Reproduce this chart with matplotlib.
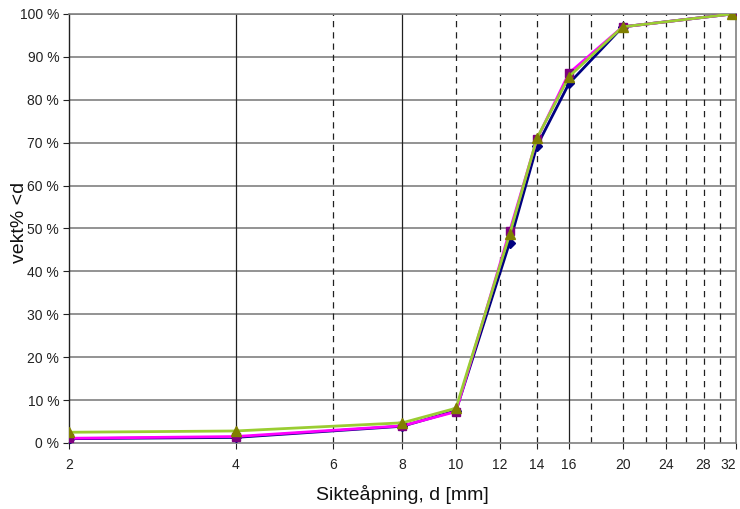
import matplotlib
matplotlib.use("Agg")
import matplotlib.pyplot as plt
from matplotlib.ticker import FixedLocator, FuncFormatter, NullLocator

plt.rcParams['font.family'] = ['Liberation Sans', 'DejaVu Sans']

# sieve sizes (mm) and passing weight %
sieve = [2, 4, 8, 10, 12.5, 14, 16, 20, 31.5]
prove1 = [1.0, 1.3, 3.9, 7.5, 46.7, 69.2, 83.8, 97.0, 100.0]
prove2 = [1.1, 1.5, 4.0, 7.3, 49.3, 70.8, 86.2, 97.0, 100.0]
prove3 = [2.5, 2.8, 4.7, 8.1, 48.6, 71.0, 85.4, 97.0, 100.0]

xticks = [2, 4, 6, 8, 10, 12, 14, 16, 20, 24, 28, 32]
solid_x = [4, 8, 16]
dashed_x = [6, 10, 12, 14, 17.5, 20, 22, 24, 26, 28, 30]
yticks = list(range(0, 101, 10))

fig = plt.figure(figsize=(7.4, 5.09), dpi=100)
ax = fig.add_axes([0.0932, 0.1297, 0.9014, 0.8428])

ax.set_xscale('log')
ax.set_xlim(2, 32.05)
ax.set_ylim(0, 100)

# grid
for y in yticks[1:]:
    ax.axhline(y, color='#808080', lw=1.2, zorder=1)
for x in solid_x:
    ax.axvline(x, color='#202020', lw=0.9, zorder=1)
for x in dashed_x:
    ax.axvline(x, color='#202020', lw=0.9, ls=(0, (5, 4)), zorder=1)

ax.plot(sieve, prove1, color='#000080', lw=2.0, marker='D', ms=5,
        mfc='#000080', mec='#000080', zorder=3)
ax.plot(sieve, prove2, color='#FF00FF', lw=2.0, marker='s', ms=6,
        mfc='#800080', mec='#800080', zorder=4)
ax.plot(sieve, prove3, color='#9ACD32', lw=2.0, marker='^', ms=7,
        mfc='#808000', mec='#808000', zorder=5)

ax.xaxis.set_major_locator(FixedLocator(xticks))
ax.xaxis.set_minor_locator(NullLocator())
ax.xaxis.set_major_formatter(FuncFormatter(lambda v, p: f"{v:g}"))
ax.set_yticks(yticks)
ax.yaxis.set_major_formatter(FuncFormatter(lambda v, p: f"{v:.0f} %"))

ax.tick_params(axis='both', labelsize=10, colors='#222222', length=4,
               width=0.8, direction='out')
ax.tick_params(axis='x', pad=7)
ax.tick_params(axis='y', pad=3)
for lbl in ax.get_xticklabels():
    if lbl.get_text() == "32":
        lbl.set_horizontalalignment('right')
        lbl.set_x(32)

for side in ['top', 'right', 'bottom']:
    ax.spines[side].set_color('#808080')
    ax.spines[side].set_linewidth(1.2)
ax.spines['left'].set_color('#202020')
ax.spines['left'].set_linewidth(1.0)

fig.text(402 / 740, 1 - 495 / 509, "Sikteåpning, d [mm]", fontsize=14,
         ha='center', va='center', color='#111111')
fig.text(20 / 740, 1 - 222 / 509, "vekt% <d", fontsize=14, rotation=90,
         ha='center', va='center', color='#111111')

fig.savefig("out.png", dpi=100)
